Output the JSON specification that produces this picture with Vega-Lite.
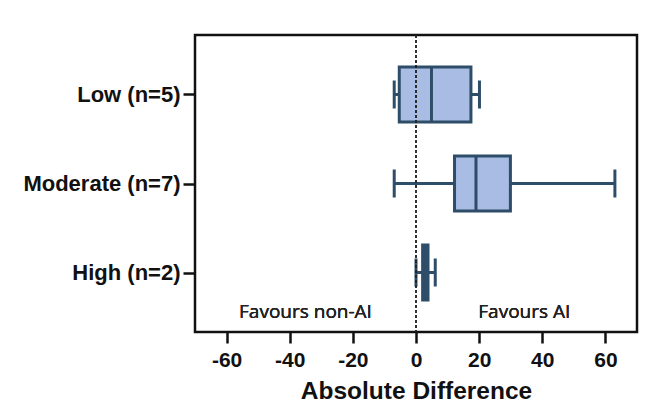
{
  "$schema": "https://vega.github.io/schema/vega-lite/v6.json",
  "width": 442,
  "height": 297,
  "autosize": {"type": "none"},
  "padding": {"left": 195, "top": 35, "right": 23, "bottom": 87},
  "background": "white",
  "config": {
    "view": {"stroke": "#111111", "strokeWidth": 2.5},
    "font": "Liberation Sans"
  },
  "data": {
    "values": [
      {"group": "Low (n=5)", "lower": -6.9, "q1": -5.3, "median": 4.9, "q3": 17.4, "upper": 20.1},
      {"group": "Moderate (n=7)", "lower": -6.9, "q1": 12.2, "median": 19.0, "q3": 29.9, "upper": 63.0},
      {"group": "High (n=2)", "lower": 0.0, "q1": 2.1, "median": 3.0, "q3": 3.8, "upper": 6.1}
    ]
  },
  "encoding": {
    "y": {
      "field": "group",
      "type": "nominal",
      "sort": ["Low (n=5)", "Moderate (n=7)", "High (n=2)"],
      "scale": {"type": "point", "padding": 0.6685},
      "axis": {
        "title": null,
        "domain": false,
        "grid": false,
        "ticks": true,
        "tickSize": 12,
        "tickWidth": 2.5,
        "tickColor": "#111111",
        "labelFont": "Liberation Sans",
        "labelFontWeight": "bold",
        "labelFontSize": 22,
        "labelColor": "#111111",
        "labelPadding": 3
      }
    }
  },
  "layer": [
    {
      "mark": {"type": "rule", "color": "#2e4d68", "strokeWidth": 3},
      "encoding": {
        "x": {
          "field": "lower",
          "type": "quantitative",
          "scale": {"domain": [-70, 70], "nice": false},
          "axis": {
            "title": "Absolute Difference",
            "values": [-60, -40, -20, 0, 20, 40, 60],
            "labelExpr": "'' + datum.value",
            "domain": false,
            "grid": false,
            "tickSize": 11,
            "tickWidth": 2.5,
            "tickColor": "#111111",
            "labelFont": "Liberation Sans",
            "labelFontWeight": "bold",
            "labelFontSize": 21,
            "labelColor": "#111111",
            "labelPadding": 6,
            "titleFont": "Liberation Sans",
            "titleFontWeight": "bold",
            "titleFontSize": 24.5,
            "titleColor": "#111111",
            "titlePadding": 9
          }
        },
        "x2": {"field": "upper"}
      }
    },
    {
      "mark": {"type": "bar", "fill": "#a9bce3", "stroke": "#2e4d68", "strokeWidth": 3, "size": 55, "opacity": 1},
      "encoding": {
        "x": {"field": "q1", "type": "quantitative"},
        "x2": {"field": "q3"}
      }
    },
    {
      "mark": {"type": "tick", "orient": "vertical", "color": "#2e4d68", "size": 55, "thickness": 3, "opacity": 1},
      "encoding": {"x": {"field": "median", "type": "quantitative"}}
    },
    {
      "mark": {"type": "tick", "orient": "vertical", "color": "#2e4d68", "size": 28, "thickness": 3, "opacity": 1},
      "encoding": {"x": {"field": "lower", "type": "quantitative"}}
    },
    {
      "mark": {"type": "tick", "orient": "vertical", "color": "#2e4d68", "size": 28, "thickness": 3, "opacity": 1},
      "encoding": {"x": {"field": "upper", "type": "quantitative"}}
    },
    {
      "mark": {"type": "rule", "color": "#222222", "strokeWidth": 1.2, "strokeDash": [3, 2]},
      "encoding": {"x": {"datum": 0}, "y": null}
    },
    {
      "mark": {"type": "text", "font": "Open Sans", "fontSize": 19, "color": "#222222", "dy": 39.5, "baseline": "middle"},
      "encoding": {
        "x": {"datum": -35},
        "y": {"datum": "High (n=2)"},
        "text": {"value": "Favours non-AI"}
      }
    },
    {
      "mark": {"type": "text", "font": "Open Sans", "fontSize": 19, "color": "#222222", "dy": 39.5, "baseline": "middle"},
      "encoding": {
        "x": {"datum": 34.3},
        "y": {"datum": "High (n=2)"},
        "text": {"value": "Favours AI"}
      }
    }
  ]
}
